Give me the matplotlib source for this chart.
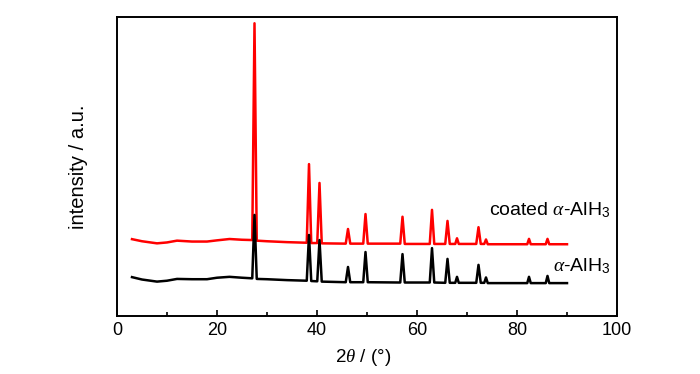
import matplotlib
matplotlib.use("Agg")
import matplotlib.pyplot as plt
from matplotlib.ticker import MultipleLocator, NullLocator

plt.rcParams['font.family'] = ['Liberation Sans', 'DejaVu Sans']
plt.rcParams['mathtext.fontset'] = 'custom'
plt.rcParams['mathtext.rm'] = 'Liberation Sans'
plt.rcParams['mathtext.it'] = 'Liberation Serif:italic'
plt.rcParams['mathtext.bf'] = 'Liberation Sans:bold'

# 2theta sample points (degrees)
two_theta = [3, 5, 8, 10, 12, 15, 18, 20, 22.5, 25, 27.05, 27.5, 27.95, 30, 34,
             37.95, 38.4, 38.85, 40.05, 40.5, 40.95, 45.75, 46.2, 46.65, 49.25, 49.7, 50.15,
             56.65, 57.1, 57.55, 62.55, 63.0, 63.45, 65.65, 66.1, 66.55, 67.65, 68.0, 68.35,
             71.85, 72.3, 72.75, 73.45, 73.8, 74.15, 82.05, 82.4, 82.75, 85.75, 86.1, 86.45, 90]

# alpha-AlH3 (black)
alh3 = [13.0, 12.2, 11.5, 11.8, 12.4, 12.3, 12.3, 12.8, 13.1, 12.8, 12.6, 33.8, 12.4, 12.3, 12.0,
        11.8, 27.1, 11.7, 11.6, 25.4, 11.5, 11.3, 16.4, 11.3, 11.3, 21.4, 11.3,
        11.2, 20.7, 11.2, 11.2, 22.7, 11.2, 11.1, 19.1, 11.1, 11.1, 13.1, 11.1,
        11.1, 17.1, 11.1, 11.1, 12.9, 11.0, 11.0, 13.1, 11.0, 11.0, 13.4, 11.0, 11.0]

# coated alpha-AlH3 (red)
coated = [25.7, 25.0, 24.3, 24.6, 25.2, 24.9, 24.9, 25.3, 25.75, 25.5, 25.4, 97.9, 25.2, 25.0, 24.7,
          24.5, 50.8, 24.4, 24.4, 44.5, 24.3, 24.2, 29.1, 24.2, 24.2, 34.1, 24.2,
          24.2, 33.2, 24.1, 24.1, 35.5, 24.1, 24.1, 31.8, 24.1, 24.1, 26.0, 24.1,
          24.1, 29.7, 24.1, 24.1, 25.6, 24.0, 24.0, 25.8, 24.0, 24.0, 25.8, 24.0, 24.0]

labels = ["coated $\\alpha$-AlH$_3$", "$\\alpha$-AlH$_3$"]

fig = plt.figure(figsize=(7.0, 3.74), dpi=100)
ax = fig.add_axes([117/700, 58/374, 500/700, 299/374])

ax.plot(two_theta, coated, color='#ff0000', lw=1.8)
ax.plot(two_theta, alh3, color='black', lw=1.8)

ax.set_xlim(0, 100)
ax.set_ylim(0, 100)
ax.xaxis.set_major_locator(MultipleLocator(20))
ax.xaxis.set_minor_locator(MultipleLocator(10))
ax.yaxis.set_major_locator(NullLocator())
ax.tick_params(axis='x', which='major', direction='in', length=4, width=1.2,
               labelsize=13, pad=4)
ax.tick_params(axis='x', which='minor', direction='in', length=3, width=1.2)
for s in ax.spines.values():
    s.set_linewidth(1.4)

ax.text(98.6, 35.5, labels[0], ha='right', va='center', fontsize=14)
ax.text(98.6, 16.7, labels[1], ha='right', va='center', fontsize=14)

fig.text(363/700, 1 - 357/374, "2$\\theta$ / (°)", ha='center', va='center', fontsize=13.5)
fig.text(78/700, 1 - 167/374, "intensity / a.u.", ha='center', va='center',
         rotation=90, fontsize=14.5)

fig.savefig("out.png", dpi=100)
